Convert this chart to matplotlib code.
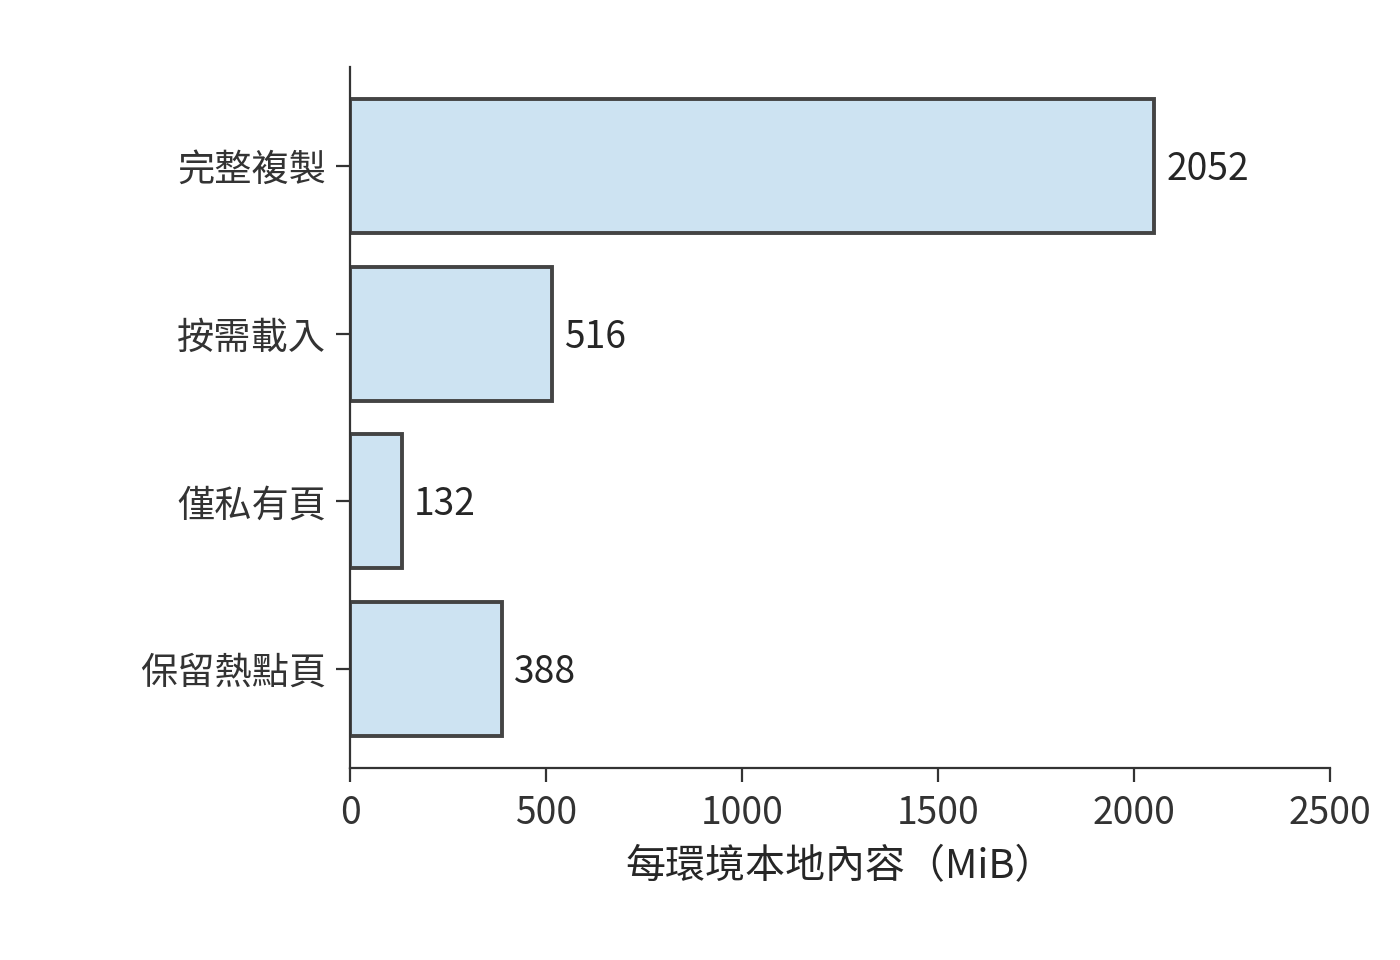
import matplotlib
matplotlib.use("Agg")
import matplotlib.pyplot as plt

plt.rcParams['font.family'] = ['Noto Sans CJK TC', 'DejaVu Sans']

strategies = ['完整複製', '按需載入', '僅私有頁', '保留熱點頁']
mib_per_env = [2052, 516, 132, 388]
xticks = [0, 500, 1000, 1500, 2000, 2500]

text_col = '#262626'
edge_col = '#444444'

fig, ax = plt.subplots(figsize=(7, 4.8), dpi=200)
fig.subplots_adjust(left=0.25, right=0.95, top=0.93, bottom=0.2)

pos = range(len(strategies))
bars = ax.barh(pos, mib_per_env, height=0.8, color='#cde3f2',
               edgecolor=edge_col, linewidth=1.4)
ax.invert_yaxis()
ax.set_yticks(list(pos))
ax.set_yticklabels(strategies, fontsize=13.4, color=text_col)

# value labels next to each bar
for b, v in zip(bars, mib_per_env):
    ax.text(b.get_width() + 30, b.get_y() + b.get_height() / 2 + 0.02, str(v),
            va='center', ha='left', fontsize=13.4, color=text_col)

ax.set_xlim(0, 2500)
ax.set_xticks(xticks)
ax.set_xticklabels([str(t) for t in xticks], fontsize=13.4, color=text_col)
ax.set_xlabel('每環境本地內容（MiB）', fontsize=14.4, color=text_col, labelpad=5)

for s in ['top', 'right']:
    ax.spines[s].set_visible(False)
for s in ['left', 'bottom']:
    ax.spines[s].set_color('#333333')
    ax.spines[s].set_linewidth(0.8)
ax.tick_params(colors='#333333', width=0.8, length=5)
ax.tick_params(axis='x', pad=4.5)

fig.savefig('out.png', dpi=200)
